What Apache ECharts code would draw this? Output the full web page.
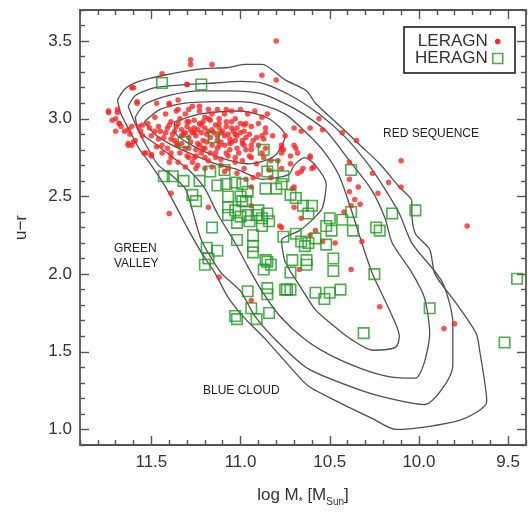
<!DOCTYPE html>
<html>
<head>
<meta charset="utf-8">
<script src="https://cdn.jsdelivr.net/npm/echarts@6/dist/echarts.min.js"></script>
<style>
  html, body { margin: 0; padding: 0; background: #fff; }
  #chart { width: 532px; height: 512px; }
</style>
</head>
<body>
<div id="chart"></div>
<script>
// Axis ticks (log stellar mass on x, reversed; u-r colour on y)
const xMajorTicks = [9.5, 10.0, 10.5, 11.0, 11.5];
const xMinorTicks = [9.4, 9.6, 9.7, 9.8, 9.9, 10.1, 10.2, 10.3, 10.4, 10.6, 10.7, 10.8, 10.9,
                     11.1, 11.2, 11.3, 11.4, 11.6, 11.7, 11.8, 11.9];
const yMajorTicks = [1.0, 1.5, 2.0, 2.5, 3.0, 3.5];
const yMinorTicks = [0.9, 1.1, 1.2, 1.3, 1.4, 1.6, 1.7, 1.8, 1.9, 2.1, 2.2, 2.3, 2.4,
                     2.6, 2.7, 2.8, 2.9, 3.1, 3.2, 3.3, 3.4, 3.6, 3.7];

// Density contours of the parent galaxy sample, outermost first
const contour1 = [[11.69,3.12],[11.65,3.19],[11.57,3.24],[11.43,3.28],[11.23,3.32],[11.07,3.33],[10.98,3.35],[10.88,3.35],[10.75,3.25],[10.63,3.18],[10.58,3.10],[10.44,2.95],[10.33,2.83],[10.22,2.71],[10.11,2.56],[10.04,2.47],[10.04,2.39],[10.02,2.26],[9.94,2.16],[9.91,2.00],[9.79,1.81],[9.68,1.62],[9.66,1.51],[9.62,1.18],[9.77,1.06],[10.13,1.00],[10.26,1.07],[10.44,1.17],[10.62,1.28],[10.72,1.40],[10.86,1.58],[10.98,1.72],[11.07,1.85],[11.14,2.00],[11.22,2.14],[11.29,2.28],[11.35,2.41],[11.42,2.56],[11.50,2.70],[11.57,2.81],[11.62,2.92],[11.67,3.03],[11.69,3.12]];
const contour2 = [[11.63,3.08],[11.59,3.15],[11.48,3.20],[11.31,3.22],[11.14,3.23],[11.00,3.24],[10.88,3.23],[10.72,3.15],[10.56,3.03],[10.42,2.89],[10.30,2.73],[10.22,2.60],[10.11,2.39],[10.04,2.20],[9.87,1.95],[9.81,1.68],[9.81,1.41],[9.97,1.16],[10.13,1.19],[10.32,1.25],[10.62,1.39],[10.78,1.55],[10.92,1.73],[11.00,1.89],[11.11,2.01],[11.22,2.22],[11.27,2.41],[11.31,2.55],[11.39,2.64],[11.46,2.70],[11.52,2.81],[11.58,2.94],[11.63,3.08]];
const contour3 = [[11.59,3.01],[11.54,3.09],[11.40,3.15],[11.23,3.18],[11.07,3.18],[10.88,3.16],[10.69,3.06],[10.52,2.92],[10.39,2.73],[10.27,2.55],[10.19,2.36],[10.15,2.20],[10.04,2.01],[9.97,1.85],[9.94,1.62],[9.97,1.43],[10.02,1.33],[10.17,1.34],[10.32,1.39],[10.50,1.48],[10.64,1.58],[10.78,1.73],[10.88,1.89],[10.96,2.05],[11.03,2.20],[11.13,2.39],[11.20,2.55],[11.29,2.67],[11.39,2.76],[11.48,2.84],[11.57,2.92],[11.59,3.01]];
const contour4 = [[11.54,2.98],[11.45,3.06],[11.31,3.10],[11.14,3.11],[11.00,3.11],[10.88,3.09],[10.75,3.03],[10.64,2.92],[10.54,2.80],[10.45,2.64],[10.39,2.45],[10.32,2.20],[10.26,2.00],[10.17,1.78],[10.11,1.60],[10.13,1.53],[10.26,1.51],[10.38,1.58],[10.47,1.66],[10.58,1.77],[10.66,1.91],[10.75,2.08],[10.77,2.22],[10.67,2.28],[10.58,2.37],[10.54,2.43],[10.52,2.58],[10.58,2.70],[10.64,2.75],[10.70,2.70],[10.73,2.64],[10.88,2.61],[11.01,2.67],[11.14,2.71],[11.29,2.78],[11.40,2.84],[11.48,2.90],[11.54,2.98]];
const contour5 = [[11.37,2.98],[11.23,3.03],[11.00,3.05],[10.84,3.00],[10.75,2.89],[10.81,2.76],[10.95,2.71],[11.14,2.76],[11.29,2.84],[11.37,2.92],[11.37,2.98]];

// Low-excitation radio AGN (log M*, u-r)
const leragn = [
  [11.28,3.38],[11.28,3.35],[11.16,3.35],[11.44,3.29],[11.61,3.20],[11.30,3.22],[10.88,3.28],[11.58,3.10],[11.74,3.04],[11.69,3.04],
  [11.63,2.83],[11.39,2.52],[11.40,2.39],[11.18,2.43],[11.54,2.78],[11.50,2.77],[11.39,2.75],[10.80,3.50],[10.80,3.25],[10.56,3.00],
  [10.70,2.94],[10.66,2.92],[10.61,2.94],[10.54,2.93],[10.43,2.91],[10.35,2.86],[10.10,2.73],[10.39,2.72],[10.26,2.65],[10.17,2.59],
  [10.23,2.52],[10.10,2.56],[10.39,2.61],[10.34,2.56],[10.39,2.53],[10.36,2.48],[10.33,2.45],[10.38,2.44],[10.42,2.40],[9.73,2.31],
  [10.59,2.69],[10.61,2.75],[10.68,2.78],[10.70,2.83],[10.77,2.81],[10.76,2.80],[10.82,2.89],[10.86,2.91],[10.65,2.68],[10.68,2.65],
  [10.70,2.56],[10.70,2.43],[10.66,2.36],[10.78,2.31],[10.32,2.21],[10.54,2.21],[10.47,2.20],[10.67,2.03],[10.38,2.03],[10.22,1.79],
  [9.86,1.65],[9.80,1.68],[11.12,1.98],[10.94,1.83],[11.25,2.68],[11.20,2.68],[10.58,2.28],[10.61,2.25],[10.77,2.30],[10.71,2.55],
  [10.94,2.44],[10.94,2.56],[10.97,2.61],[10.93,2.62],[10.83,2.62],[10.66,2.66],[10.60,2.68],
  [11.74,3.05],[11.69,3.06],[11.70,3.00],[11.67,2.95],[11.61,2.95],[11.57,2.95],[11.55,2.96],[11.60,3.20],[11.58,3.11],[11.47,3.10],
  [11.40,3.10],[11.35,3.12],[11.30,3.22],[11.63,2.84],[11.61,2.83],[11.53,2.78],[11.50,2.76],[11.39,2.78],[11.29,2.75],[11.25,2.76],
  [11.11,2.70],[11.14,2.78],[11.08,3.06],[11.18,3.06],[11.23,3.08],[11.29,3.06],[11.36,3.05],[11.42,3.03],[11.48,3.01],[11.52,2.97],
  [11.46,2.95],[11.40,2.96],[11.35,2.97],[11.29,2.98],[11.23,2.97],[11.18,3.00],[11.12,3.00],[11.08,2.98],[11.42,2.91],[11.50,2.89],
  [11.55,2.89],[11.59,2.86],[11.39,2.87],[11.33,2.89],[11.27,2.91],[11.22,2.91],[11.16,2.93],[11.11,2.91],[11.44,2.83],[11.36,2.84],
  [11.31,2.81],[11.23,2.83],[11.20,2.81],[11.12,2.83],[11.08,2.78],[11.35,2.72],[11.44,2.78],[11.40,2.72],[11.27,2.72],[11.20,2.75],
  [11.03,3.00],[11.00,2.97],[10.97,2.97],[11.05,2.94],[10.98,2.92],[11.03,2.90],[10.97,2.88],[10.88,2.89],[10.87,2.87],[10.93,2.86],
  [11.05,2.85],[10.99,2.84],[10.94,2.83],[10.77,2.83],[10.77,2.78],[10.69,2.81],[10.61,2.76],[10.88,2.78],[10.97,2.80],[11.01,2.78],
  [11.03,2.72],[10.98,2.68],[10.94,2.75],[10.84,2.67],[10.77,2.68],[11.07,2.68],
  [11.40,3.09],[11.35,3.06],[11.31,3.03],[11.27,3.08],[11.23,3.05],[11.20,3.01],[11.16,3.03],[11.13,3.06],[11.09,3.03],[11.05,3.05],
  [11.00,3.06],[10.96,3.03],[10.92,3.05],[10.88,3.01],[10.85,3.03],[11.39,2.98],[11.34,3.00],[11.30,2.95],[11.26,2.94],[11.22,2.96],
  [11.18,2.92],[11.14,2.96],[11.12,2.94],[11.08,2.95],[11.05,2.98],[11.02,2.94],[10.98,2.96],[10.94,2.95],[10.90,2.97],[10.86,2.94],
  [11.37,2.92],[11.32,2.90],[11.29,2.88],[11.25,2.89],[11.21,2.86],[11.17,2.88],[11.13,2.86],[11.09,2.89],[11.06,2.87],[11.02,2.89],
  [10.99,2.86],[10.95,2.90],[10.91,2.88],[11.37,2.86],[11.33,2.84],[11.29,2.81],[11.25,2.80],[11.21,2.81],[11.17,2.78],[11.13,2.81],
  [11.09,2.83],[11.06,2.80],[11.02,2.81],[10.98,2.83],[10.94,2.80],[10.90,2.83],[10.86,2.81],[11.34,2.78],[11.30,2.76],[11.26,2.75],
  [11.22,2.78],[11.18,2.73],[11.14,2.75],[11.11,2.74],[11.07,2.76],[11.03,2.75],[10.99,2.73],[10.95,2.76],[10.91,2.71],[10.87,2.75],
  [10.83,2.73],[11.31,2.69],[11.24,2.70],[11.16,2.69],[11.09,2.66],[11.02,2.65],[10.90,2.64],[10.79,2.73],[10.72,2.76],[10.75,2.89],
  [10.72,2.71],
  [11.45,2.92],[11.43,2.88],[11.41,2.94],[11.38,2.90],[11.36,2.95],[11.33,2.93],[11.31,2.91],[11.28,2.93],[11.26,2.91],[11.24,2.93],
  [11.20,2.94],[11.19,2.90],[11.15,2.91],[11.13,2.89],[11.10,2.92],[11.07,2.90],[11.04,2.92],[11.00,2.91],[11.28,2.85],[11.24,2.84],
  [11.19,2.85],[11.16,2.83],[11.11,2.85],[11.06,2.84],[11.03,2.86],[11.30,2.98],[11.26,2.99],[11.21,2.98],[11.17,2.99],[11.12,2.97],
  [11.48,2.92],[11.51,2.94],[11.46,2.87],[11.56,2.92],[11.62,2.90],[11.65,2.92],[11.68,2.97],[11.72,2.99],[11.35,2.83],[11.41,2.81],
  [11.47,2.82],[11.63,2.93],[11.68,2.97],[11.70,2.92],[11.60,2.85]
];

// High-excitation radio AGN (log M*, u-r)
const heragn = [
  [11.44,3.23],[11.22,3.22],[11.32,2.85],[11.15,2.88],[10.87,2.80],[10.82,2.70],[10.85,2.66],[11.17,2.66],[11.09,2.67],[11.43,2.63],
  [11.38,2.63],[11.32,2.60],[11.23,2.60],[11.13,2.57],[11.08,2.58],[11.03,2.59],[10.99,2.58],[10.96,2.53],[10.86,2.55],[10.80,2.55],
  [10.77,2.58],[10.76,2.63],[10.72,2.51],[10.69,2.49],[11.27,2.51],[11.25,2.47],[11.07,2.50],[11.00,2.50],[10.99,2.47],[10.97,2.47],
  [11.07,2.43],[11.07,2.38],[11.03,2.41],[11.00,2.37],[10.96,2.38],[10.91,2.38],[10.90,2.41],[10.85,2.39],[10.88,2.36],[10.95,2.34],
  [10.84,2.34],[10.88,2.31],[11.02,2.33],[11.16,2.30],[10.65,2.44],[10.60,2.44],[10.62,2.39],[10.38,2.67],[10.38,2.40],[10.50,2.36],
  [10.43,2.35],[10.52,2.31],[10.49,2.28],[10.37,2.28],[10.24,2.30],[10.22,2.28],[10.15,2.39],[10.02,2.41],[11.02,2.22],[10.93,2.25],
  [10.93,2.18],[10.93,2.14],[10.76,2.24],[10.69,2.26],[10.66,2.21],[10.64,2.18],[10.62,2.20],[10.58,2.23],[10.52,2.19],[11.19,2.17],
  [11.13,2.15],[11.18,2.10],[11.20,2.06],[10.85,2.08],[10.87,2.03],[10.86,2.09],[10.83,2.06],[10.71,2.09],[10.63,2.09],[10.63,2.06],
  [10.72,2.01],[10.48,2.10],[10.48,2.02],[10.25,2.00],[10.96,1.89],[10.85,1.91],[10.85,1.87],[10.75,1.90],[10.74,1.90],[10.72,1.90],
  [10.58,1.88],[10.53,1.84],[10.50,1.88],[10.44,1.90],[10.94,1.78],[10.84,1.75],[10.91,1.71],[11.03,1.73],[11.02,1.71],[9.94,1.78],
  [10.31,1.62],[9.45,1.97],[9.52,1.56]
];

const FONT = "'Liberation Sans', Arial, Helvetica, sans-serif";
const AXIS_COLOR = '#555';
const TEXT_COLOR = '#333';
const RED = '#ff2323';
const GREEN = '#1f9a1f';

function contourSeries(points) {
  return {
    type: 'line',
    data: points,
    smooth: 0.25,
    symbol: 'none',
    silent: true,
    lineStyle: { color: '#505050', width: 1.3 },
    z: 1
  };
}

// One axis definition per tick set; major and minor ticks share position
function xAxisDef(pos, ticks, len, withLabels) {
  return {
    type: 'value', min: 9.4, max: 11.9, inverse: true, position: pos,
    splitLine: { show: false },
    axisLine: { show: withLabels !== null, onZero: false, lineStyle: { color: AXIS_COLOR, width: 1.8 } },
    axisTick: { show: true, inside: true, length: len, customValues: ticks,
                lineStyle: { color: AXIS_COLOR, width: 1.4 } },
    axisLabel: withLabels ? { show: true, customValues: ticks, formatter: v => v.toFixed(1),
                fontSize: 17, color: TEXT_COLOR, fontFamily: FONT, margin: 9 } : { show: false }
  };
}
function yAxisDef(pos, ticks, len, withLabels) {
  return {
    type: 'value', min: 0.9, max: 3.7, position: pos,
    splitLine: { show: false },
    axisLine: { show: withLabels !== null, onZero: false, lineStyle: { color: AXIS_COLOR, width: 1.8 } },
    axisTick: { show: true, inside: true, length: len, customValues: ticks,
                lineStyle: { color: AXIS_COLOR, width: 1.4 } },
    axisLabel: withLabels ? { show: true, customValues: ticks, formatter: v => v.toFixed(1),
                fontSize: 17, color: TEXT_COLOR, fontFamily: FONT, margin: 8 } : { show: false }
  };
}

const xBottom = xAxisDef('bottom', xMajorTicks, 9, true);
xBottom.name = '{n|log M}{s|*}{n| [M}{s|Sun}{n|]}';
xBottom.nameLocation = 'middle';
xBottom.nameGap = 38;
xBottom.nameTextStyle = {
  fontFamily: FONT, color: TEXT_COLOR, fontSize: 17,
  rich: { n: { fontSize: 17, fontFamily: FONT, color: TEXT_COLOR },
          s: { fontSize: 10, fontFamily: FONT, color: TEXT_COLOR, padding: [14, 0, 0, 0] } }
};

const yLeft = yAxisDef('left', yMajorTicks, 9, true);
yLeft.name = 'u\u2212r';
yLeft.nameLocation = 'middle';
yLeft.nameGap = 50;
yLeft.nameRotate = 90;
yLeft.nameTextStyle = { fontFamily: FONT, color: TEXT_COLOR, fontSize: 17 };

const chart = echarts.init(document.getElementById('chart'), null, { renderer: 'canvas' });
chart.setOption({
  animation: false,
  backgroundColor: '#fff',
  grid: { left: 80, top: 10, width: 446, height: 448 },
  xAxis: [
    xBottom,
    xAxisDef('bottom', xMinorTicks, 5, null),
    xAxisDef('top', xMajorTicks, 9, false),
    xAxisDef('top', xMinorTicks, 5, null)
  ],
  yAxis: [
    yLeft,
    yAxisDef('left', yMinorTicks, 5, null),
    yAxisDef('right', yMajorTicks, 9, false),
    yAxisDef('right', yMinorTicks, 5, null)
  ],
  legend: {
    data: [
      { name: 'LERAGN', icon: 'circle', itemStyle: { color: RED, borderColor: '#fff', borderWidth: 4.5, opacity: 1 } },
      { name: 'HERAGN', icon: 'rect', itemStyle: { color: 'rgba(0,0,0,0)', borderColor: GREEN, borderWidth: 1.6 } }
    ],
    orient: 'vertical', align: 'right',
    right: 17, top: 27,
    padding: [6, 10, 6, 11],
    itemGap: 0, itemWidth: 10, itemHeight: 10,
    borderColor: '#111', borderWidth: 1.5,
    textStyle: { fontSize: 17, color: TEXT_COLOR, fontFamily: FONT, lineHeight: 17 }
  },
  graphic: [
    { type: 'text', left: 383, top: 128, silent: true,
      style: { text: 'RED SEQUENCE', font: '12px ' + FONT, fill: '#222' } },
    { type: 'text', left: 114, top: 241, silent: true,
      style: { text: 'GREEN\nVALLEY', font: '12px ' + FONT, fill: '#222', lineHeight: 15 } },
    { type: 'text', left: 203, top: 385, silent: true,
      style: { text: 'BLUE CLOUD', font: '12px ' + FONT, fill: '#222' } }
  ],
  series: [
    contourSeries(contour1),
    contourSeries(contour2),
    contourSeries(contour3),
    contourSeries(contour4),
    contourSeries(contour5),
    { name: 'LERAGN', type: 'scatter', data: leragn, symbol: 'circle', symbolSize: 5.5,
      itemStyle: { color: RED }, z: 3 },
    { name: 'HERAGN', type: 'scatter', data: heragn, symbol: 'rect', symbolSize: 10.5,
      itemStyle: { color: 'rgba(0,0,0,0)', borderColor: GREEN, borderWidth: 1.6 }, z: 4 }
  ]
});
</script>
</body>
</html>
